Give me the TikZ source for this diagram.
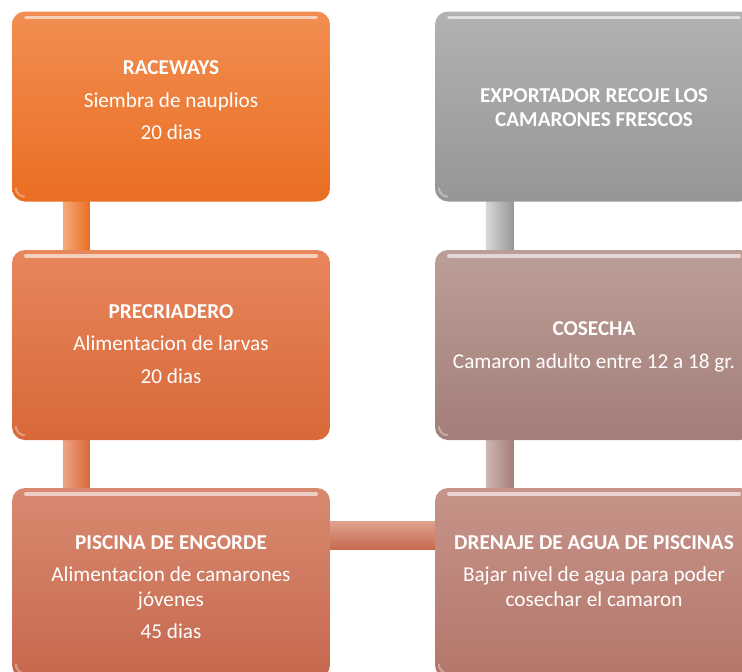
\documentclass[tikz,border=0pt]{standalone}
\usepackage{fontspec}
\setmainfont{Carlito}
\usetikzlibrary{calc,backgrounds}
\definecolor{oTop}{RGB}{242,142,82}
\definecolor{oBot}{RGB}{233,110,34}
\definecolor{gTop}{RGB}{178,178,178}
\definecolor{gBot}{RGB}{150,150,150}
\definecolor{pTop}{RGB}{232,134,92}
\definecolor{pBot}{RGB}{216,104,56}
\definecolor{cTop}{RGB}{188,158,152}
\definecolor{cBot}{RGB}{164,126,120}
\definecolor{eTop}{RGB}{216,138,112}
\definecolor{eBot}{RGB}{198,104,78}
\definecolor{dTop}{RGB}{198,148,138}
\definecolor{dBot}{RGB}{180,118,106}
\tikzset{
  box/.style={minimum width=318pt, minimum height=190pt, inner sep=0pt, rounded corners=13pt},
  txt/.style={text=white, align=center, inner sep=0pt, font=\fontsize{21.2}{24.5}\selectfont},
  gloss/.style={white, opacity=0.6, line width=3.5pt, line cap=round},
}
\begin{document}
\begin{tikzpicture}[x=1pt,y=-1pt]
\useasboundingbox (0,0) rectangle (742,672);
\clip (0,0) rectangle (742,672);
% boxes
\node[box, top color=oTop, bottom color=oBot] (b1) at (171,106.5) {};
\node[box, top color=pTop, bottom color=pBot] (b2) at (171,345) {};
\node[box, top color=eTop, bottom color=eBot] (b3) at (171,583) {};
\node[box, top color=gTop, bottom color=gBot] (r1) at (594,106.5) {};
\node[box, top color=cTop, bottom color=cBot] (r2) at (594,345) {};
\node[box, top color=dTop, bottom color=dBot] (r3) at (594,583) {};
% gloss highlights
\foreach \n in {b1,b2,b3,r1,r2,r3}{
  \draw[gloss] ([xshift=14pt,yshift=-6pt]\n.north west) -- ([xshift=-14pt,yshift=-6pt]\n.north east);
  \draw[white, opacity=0.35, line width=2pt] ([xshift=4pt,yshift=14pt]\n.south west) arc[start angle=180, end angle=270, radius=9pt];
}
% connectors
\begin{scope}[on background layer]
\fill[left color=oTop!75!white, right color=oBot] ([xshift=51pt,yshift=4pt]b1.south west) rectangle ([xshift=78pt,yshift=-4pt]b2.north west);
\fill[left color=pTop!75!white, right color=pBot] ([xshift=51pt,yshift=4pt]b2.south west) rectangle ([xshift=78pt,yshift=-4pt]b3.north west);
\fill[left color=gTop!50!white, right color=gBot] ([xshift=51pt,yshift=4pt]r1.south west) rectangle ([xshift=79pt,yshift=-4pt]r2.north west);
\fill[left color=cTop!75!white, right color=cBot] ([xshift=51pt,yshift=4pt]r2.south west) rectangle ([xshift=79pt,yshift=-4pt]r3.north west);
\fill[top color=eTop!80!white, bottom color=eBot] ($(b3.north east)+(-4,34)$) rectangle ($(r3.north west)+(4,62)$);
\end{scope}
% texts
\node[txt] (t1) at ([yshift=6pt]b1.center) {\textbf{RACEWAYS}\\[8pt]Siembra de nauplios\\[8pt]20 dias};
\node[txt] (t2) at ([yshift=1pt]b2.center) {\textbf{PRECRIADERO}\\[8pt]Alimentacion de larvas\\[8pt]20 dias};
\node[txt] (t3) at ([yshift=-4pt]b3.center) {\textbf{PISCINA DE ENGORDE}\\[8pt]Alimentacion de camarones\\j\'ovenes\\[8pt]45 dias};
\node[txt] (u1) at ([yshift=-1pt]r1.center) {\textbf{EXPORTADOR RECOJE LOS}\\\textbf{CAMARONES FRESCOS}};
\node[txt] (u2) at ([yshift=-2pt]r2.center) {\textbf{COSECHA}\\[8pt]Camaron adulto entre 12 a 18 gr.};
\node[txt] (u3) at ([yshift=12pt]r3.center) {\textbf{DRENAJE DE AGUA DE PISCINAS}\\[8pt]Bajar nivel de agua para poder\\cosechar el camaron};
\end{tikzpicture}
\end{document}
